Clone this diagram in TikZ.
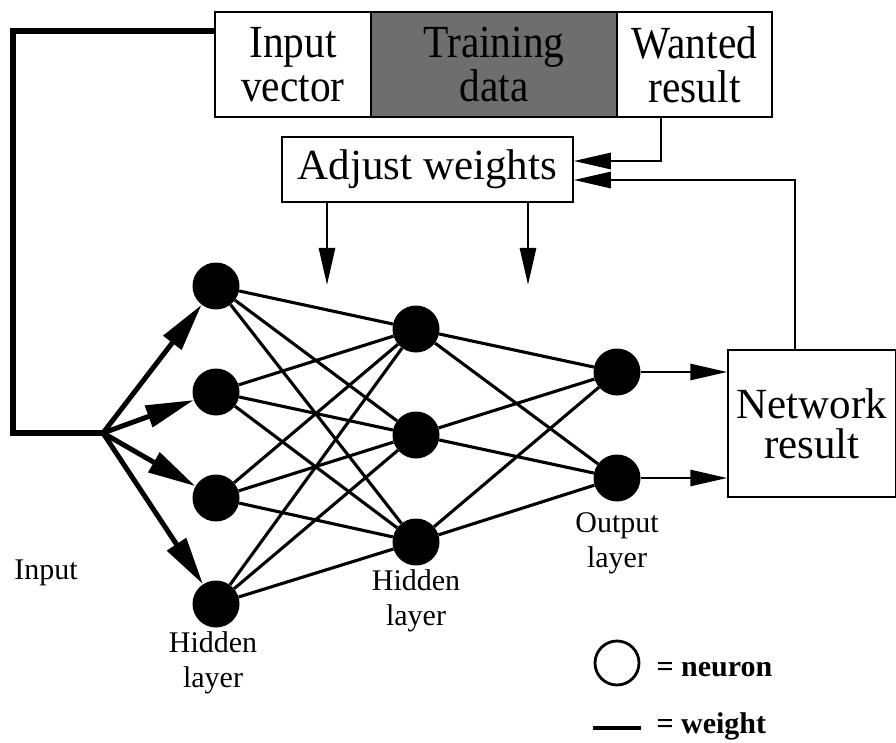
\documentclass[tikz,border=0pt]{standalone}
\usepackage{fontspec}
\setmainfont{Liberation Serif}
\newfontfamily\tallserif[FakeStretch=0.9]{Liberation Serif}
\usetikzlibrary{arrows.meta,calc}

\begin{document}
\begin{tikzpicture}[x=1pt,y=-1pt,
  box/.style={draw, line width=1.5pt, inner sep=0pt, align=center,
    font=\fontsize{43}{40}\selectfont},
  topbox/.style={box, minimum height=105pt, font=\tallserif\fontsize{46}{44}\selectfont},
  neuron/.style={circle, fill=black, minimum size=47pt, inner sep=0pt},
  weight/.style={line width=3.1pt},
  feed/.style={line width=2.8pt, -{Triangle[length=37pt,width=16pt]}},
  inarrow/.style={line width=5pt, -{Triangle[length=48pt,width=22pt]}},
  lbl/.style={font=\fontsize{30}{35}\selectfont, align=center},
  legend/.style={font=\fontsize{30}{35}\selectfont\bfseries, anchor=base west},
  ]
\useasboundingbox (0,0) rectangle (896,743);

% data boxes along the top
\node[topbox, minimum width=156pt] (iv) at (293,64.5) {Input\\vector};
\node[topbox, fill=black!57, minimum width=245pt] (td) at (494,64.5) {Training\\data};
\node[topbox, minimum width=155pt] (wr) at (694.5,64.5) {Wanted\\result};
\node[box, minimum width=291pt, minimum height=65pt] (aw) at (427.5,169.5) {Adjust weights};
\node[box, minimum width=168pt, minimum height=147pt] (nr) at (812,423.5) {Network\\result};

% neurons
\foreach \i/\y in {1/286,2/392,3/498,4/604} \node[neuron] (h1\i) at (216,\y) {};
\foreach \i/\y in {1/329,2/435,3/542} \node[neuron] (h2\i) at (416,\y) {};
\foreach \i/\y in {1/372,2/478} \node[neuron] (o\i) at (617,\y) {};

% weights between layers
\foreach \a in {1,...,4} \foreach \b in {1,2,3} \draw[weight] (h1\a) -- (h2\b);
\foreach \a in {1,2,3} \foreach \b in {1,2} \draw[weight] (h2\a) -- (o\b);

% input vector fed to the first hidden layer
\coordinate (br) at (103,433);
\draw[line width=5.5pt, line join=miter] ([yshift=-20pt]iv.north west) -| (13,433) -- (br);
\foreach \i in {1,...,4} \draw[inarrow] (br) -- (h1\i);

% outputs into the network result
\foreach \i in {1,2} \draw[feed] (o\i) -- (o\i -| nr.west);

% comparison and weight adjustment
\draw[feed] ([xshift=-33.5pt]wr.south) |- ([yshift=8.5pt]aw.east);
\draw[feed] ([xshift=-17pt]nr.north) |- ([yshift=-10.5pt]aw.east);
\coordinate (d1) at (327,285);
\coordinate (d2) at (528,285);
\draw[feed] (aw.south -| d1) -- (d1);
\draw[feed] (aw.south -| d2) -- (d2);

% layer labels
\node[lbl] (lin) at (46,573) {Input};
\node[lbl] (lh1) at (213,662.5) {Hidden\\layer};
\node[lbl] (lh2) at (416,601) {Hidden\\layer};
\node[lbl] (lout) at (617,543) {Output\\layer};

% legend
\node[circle, draw, line width=2.8pt, minimum size=44pt, inner sep=0pt] (lgn) at (617,663) {};
\node[legend] (lgnt) at (653,676) {= neuron};
\coordinate (lw1) at (593,728);
\coordinate (lw2) at (641,728);
\draw[weight] (lw1) -- (lw2);
\node[legend] (lgwt) at (653,733) {= weight};
\end{tikzpicture}
\end{document}
